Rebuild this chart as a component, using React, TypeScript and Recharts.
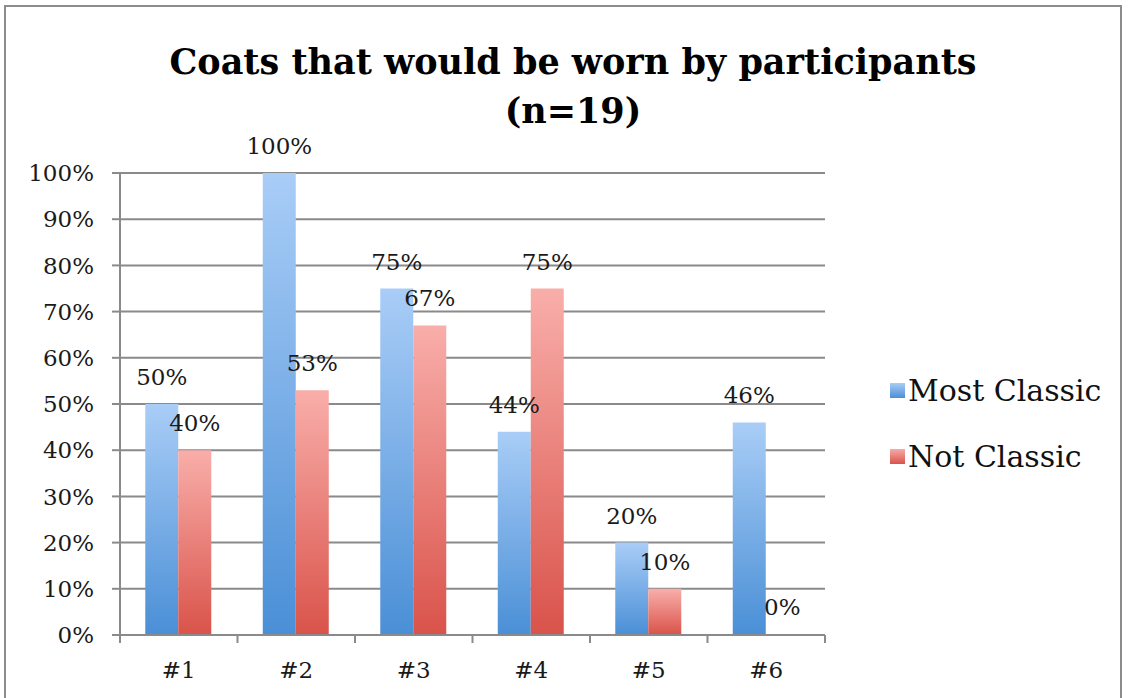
import { BarChart, Bar, XAxis, YAxis, CartesianGrid, Legend, LabelList } from 'recharts';

const categories = ['#1', '#2', '#3', '#4', '#5', '#6'];
const mostClassic = [50, 100, 75, 44, 20, 46];
const notClassic = [40, 53, 67, 75, 10, 0];
const yTicks = [0, 10, 20, 30, 40, 50, 60, 70, 80, 90, 100];

const data = categories.map((name, i) => ({
    name,
    most: mostClassic[i],
    not: notClassic[i],
}));

const FONT = '"DejaVu Serif", serif';
const GRAY = '#8a8a8a';

// tick line on the category boundaries, label in the middle
const CategoryTick = (props: any) => {
    const { x, y, payload, index } = props;
    const half = payload?.offset ?? 58.75;
    const last = index === categories.length - 1;
    return (
        <g>
            <line x1={x - half} y1={y - 8} x2={x - half} y2={y} stroke={GRAY} strokeWidth={2} />
            {last && <line x1={x + half} y1={y - 8} x2={x + half} y2={y} stroke={GRAY} strokeWidth={2} />}
            <text x={x} y={y + 35} textAnchor="middle" fontSize={23} fill="#1a1a1a" fontFamily={FONT}>
                {payload.value}
            </text>
        </g>
    );
};

const LegendBox = () => (
    <div style={{ fontFamily: FONT, fontSize: 30, color: '#111' }}>
        {[
            { label: 'Most Classic', bg: 'linear-gradient(#a9cdf7, #4a8fd6)' },
            { label: 'Not Classic', bg: 'linear-gradient(#f8aaa6, #d9534a)' },
        ].map((it, i) => (
            <div key={it.label} style={{ display: 'flex', alignItems: 'center', height: 40, marginTop: i ? 26 : 0 }}>
                <span style={{ width: 15, height: 15, background: it.bg, marginRight: 3, display: 'inline-block' }} />
                <span>{it.label}</span>
            </div>
        ))}
    </div>
);

export default function App() {
    return (
        <div style={{ position: 'absolute', left: 0, top: 0, width: 1131, height: 698, background: '#fff', overflow: 'hidden' }}>
            <div style={{ position: 'absolute', left: 4, top: 5, width: 1114, height: 720, border: '2px solid #8c8c8c' }} />
            <div
                style={{
                    position: 'absolute',
                    left: 0,
                    top: 37,
                    width: 1146,
                    textAlign: 'center',
                    fontFamily: FONT,
                    fontWeight: 'bold',
                    fontSize: 35,
                    lineHeight: '49px',
                    color: '#000',
                }}
            >
                Coats that would be worn by participants
                <br />
                (n=19)
            </div>
            <div style={{ position: 'absolute', left: 0, top: 0 }}>
                <BarChart
                    width={1131}
                    height={698}
                    data={data}
                    margin={{ top: 173, right: 306, bottom: 0, left: 0 }}
                    barCategoryGap="21.5%"
                    barGap={0}
                >
                    <defs>
                        <linearGradient id="gradBlue" x1="0" y1="0" x2="0" y2="1">
                            <stop offset="0%" stopColor="#a9cdf7" />
                            <stop offset="100%" stopColor="#4a8fd6" />
                        </linearGradient>
                        <linearGradient id="gradRed" x1="0" y1="0" x2="0" y2="1">
                            <stop offset="0%" stopColor="#f9aeaa" />
                            <stop offset="100%" stopColor="#d9534a" />
                        </linearGradient>
                    </defs>
                    <CartesianGrid vertical={false} stroke={GRAY} strokeWidth={2} />
                    <XAxis
                        dataKey="name"
                        height={63}
                        tickLine={false}
                        tickSize={8}
                        tickMargin={0}
                        axisLine={{ stroke: GRAY, strokeWidth: 2 }}
                        tick={<CategoryTick />}
                        interval={0}
                    />
                    <YAxis
                        width={120}
                        domain={[0, 100]}
                        ticks={yTicks}
                        interval={0}
                        tickFormatter={(v: number) => `${v}%`}
                        tickSize={8}
                        tickMargin={18}
                        axisLine={{ stroke: GRAY, strokeWidth: 2 }}
                        tickLine={{ stroke: GRAY, strokeWidth: 2 }}
                        tick={{ fontSize: 23, fill: '#1a1a1a', fontFamily: FONT }}
                    />
                    <Legend
                        layout="horizontal"
                        align="center"
                        verticalAlign="middle"
                        content={<LegendBox />}
                        wrapperStyle={{ left: 890, top: 370, width: 240, bottom: 'auto' }}
                    />
                    <Bar dataKey="most" name="Most Classic" fill="url(#gradBlue)" minPointSize={1} isAnimationActive={false}>
                        <LabelList dataKey="most" position="top" offset={19} formatter={(v: any) => `${v}%`} fontSize={23} fill="#1a1a1a" fontFamily={FONT} />
                    </Bar>
                    <Bar dataKey="not" name="Not Classic" fill="url(#gradRed)" minPointSize={1} isAnimationActive={false}>
                        <LabelList dataKey="not" position="top" offset={19} formatter={(v: any) => `${v}%`} fontSize={23} fill="#1a1a1a" fontFamily={FONT} />
                    </Bar>
                </BarChart>
            </div>
        </div>
    );
}
